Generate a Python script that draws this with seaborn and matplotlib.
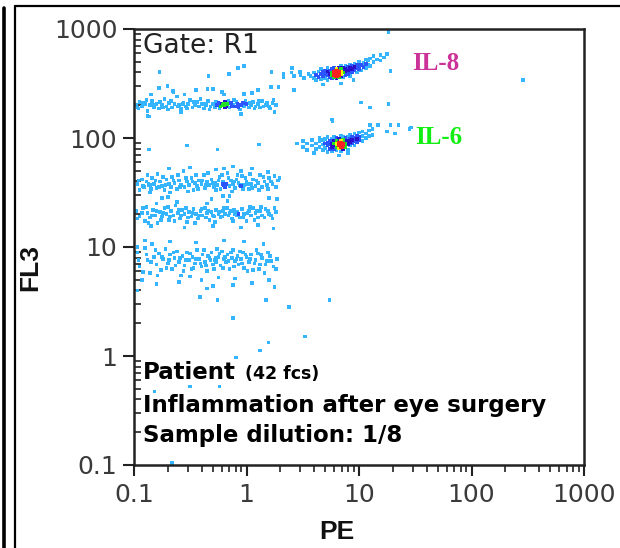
import numpy as np
import pandas as pd
import matplotlib
matplotlib.use("Agg")
import matplotlib.pyplot as plt
import seaborn as sns
from matplotlib.lines import Line2D
from matplotlib.ticker import LogLocator, NullFormatter

sns.set_theme(style="white")
plt.rcParams["font.family"] = ["DejaVu Sans"]

# ---- data: events as (log10 PE, log10 FL3) ----
band_fl3_200 = [
    (-0.98,2.30),(-0.96,2.27),(-0.95,2.33),(-0.93,2.29),(-0.90,2.31),(-0.88,2.25),(-0.86,2.30),(-0.84,2.34),
    (-0.82,2.28),(-0.80,2.31),(-0.78,2.27),(-0.75,2.30),(-0.73,2.36),(-0.71,2.29),(-0.69,2.32),(-0.66,2.28),
    (-0.64,2.31),(-0.62,2.38),(-0.60,2.30),(-0.58,2.27),(-0.56,2.32),(-0.54,2.29),(-0.52,2.31),(-0.50,2.35),
    (-0.48,2.28),(-0.46,2.30),(-0.44,2.33),(-0.42,2.29),(-0.40,2.31),(-0.38,2.27),(-0.36,2.30),(-0.34,2.34),
    (-0.32,2.29),(-0.30,2.31),(-0.28,2.28),(-0.26,2.30),(-0.25,2.32),(-0.23,2.29),(-0.22,2.31),(-0.21,2.30),
    (-0.20,2.30),(-0.19,2.33),(-0.18,2.29),(-0.17,2.31),(-0.15,2.28),(-0.14,2.32),(-0.12,2.30),(-0.11,2.35),
    (-0.10,2.29),(-0.08,2.31),(-0.07,2.28),(-0.05,2.30),(-0.03,2.32),(-0.02,2.29),(0.00,2.31),(0.02,2.28),
    (0.04,2.30),(0.06,2.33),(0.08,2.29),(0.10,2.31),(0.12,2.28),(0.14,2.34),(0.17,2.30),(0.20,2.29),
    (0.23,2.32),(0.26,2.30),(-0.65,2.42),(-0.55,2.40),(-0.45,2.44),(-0.78,2.46),(-0.30,2.45),(-0.20,2.40),
    (-0.22,2.42),(0.05,2.41),(0.10,2.44),(0.22,2.47),(-0.85,2.40),(-0.88,2.20),(-0.58,2.24),(-0.05,2.22),
    (0.25,2.24),(-0.21,2.30),(-0.20,2.31),(-0.22,2.30),
    (-0.97,2.28),(-0.92,2.32),(-0.89,2.35),(-0.83,2.30),(-0.77,2.33),(-0.74,2.28),(-0.70,2.26),(-0.67,2.34),
    (-0.61,2.29),(-0.57,2.31),(-0.53,2.27),(-0.47,2.33),(-0.41,2.36),(-0.37,2.31),(-0.33,2.26),(-0.27,2.33),
    (-0.24,2.27),(-0.19,2.28),(-0.16,2.34),(-0.13,2.29),(-0.09,2.33),(-0.06,2.26),(-0.01,2.34),(0.03,2.32),
    (0.07,2.27),(0.11,2.34),(0.15,2.29),(0.18,2.32),(0.21,2.27),(0.24,2.35),
]
band_fl3_37 = [
    (-0.97,1.58),(-0.95,1.52),(-0.93,1.62),(-0.91,1.55),(-0.89,1.60),(-0.87,1.57),(-0.86,1.50),(-0.84,1.63),
    (-0.82,1.58),(-0.80,1.54),(-0.79,1.67),(-0.77,1.60),(-0.75,1.56),(-0.73,1.52),(-0.71,1.62),(-0.69,1.58),
    (-0.67,1.55),(-0.66,1.64),(-0.64,1.59),(-0.62,1.53),(-0.60,1.61),(-0.58,1.57),(-0.56,1.70),(-0.55,1.55),
    (-0.53,1.60),(-0.51,1.57),(-0.49,1.63),(-0.47,1.52),(-0.46,1.59),(-0.44,1.56),(-0.42,1.61),(-0.40,1.58),
    (-0.38,1.66),(-0.37,1.54),(-0.35,1.60),(-0.33,1.57),(-0.31,1.62),(-0.29,1.55),(-0.28,1.59),(-0.26,1.57),
    (-0.24,1.64),(-0.23,1.53),(-0.21,1.60),(-0.20,1.57),(-0.18,1.58),(-0.17,1.68),(-0.15,1.56),(-0.14,1.61),
    (-0.12,1.58),(-0.10,1.54),(-0.09,1.62),(-0.07,1.59),(-0.05,1.56),(-0.04,1.65),(-0.02,1.57),(0.00,1.60),
    (0.02,1.53),(0.04,1.58),(0.06,1.62),(0.08,1.56),(0.10,1.59),(0.12,1.66),(0.14,1.55),(0.16,1.60),
    (0.18,1.57),(0.20,1.63),(0.23,1.58),(0.26,1.55),(0.28,1.61),(-0.69,1.72),(-0.50,1.73),(-0.27,1.71),
    (-0.20,1.72),(-0.12,1.74),(-0.05,1.70),(0.05,1.72),(0.19,1.69),(-0.75,1.45),(-0.70,1.46),(-0.31,1.44),
    (-0.15,1.47),(0.20,1.45),(0.27,1.44),(-0.87,1.58),(-0.86,1.57),(-0.21,1.58),(-0.20,1.58),
    (-0.96,1.61),(-0.92,1.56),(-0.88,1.66),(-0.85,1.53),(-0.81,1.61),(-0.78,1.55),(-0.74,1.64),(-0.72,1.57),
    (-0.68,1.50),(-0.65,1.61),(-0.61,1.66),(-0.59,1.55),(-0.54,1.63),(-0.52,1.51),(-0.48,1.60),(-0.45,1.66),
    (-0.43,1.53),(-0.39,1.61),(-0.36,1.57),(-0.34,1.68),(-0.30,1.59),(-0.27,1.52),(-0.25,1.61),(-0.22,1.66),
    (-0.19,1.55),(-0.16,1.63),(-0.13,1.51),(-0.11,1.60),(-0.08,1.66),(-0.06,1.57),(-0.03,1.53),(-0.01,1.63),
    (0.01,1.58),(0.03,1.67),(0.05,1.54),(0.09,1.61),(0.11,1.52),(0.15,1.64),(0.19,1.53),(0.22,1.60),(0.25,1.65),
]
band_fl3_20 = [
    (-0.98,1.33),(-0.95,1.28),(-0.92,1.36),(-0.90,1.24),(-0.88,1.31),(-0.86,1.27),(-0.83,1.34),(-0.81,1.29),
    (-0.79,1.22),(-0.77,1.32),(-0.75,1.28),(-0.73,1.36),(-0.71,1.30),(-0.69,1.25),(-0.67,1.33),(-0.65,1.29),
    (-0.63,1.38),(-0.61,1.31),(-0.59,1.26),(-0.57,1.34),(-0.55,1.30),(-0.53,1.23),(-0.51,1.32),(-0.49,1.28),
    (-0.47,1.35),(-0.45,1.30),(-0.43,1.26),(-0.41,1.33),(-0.39,1.29),(-0.37,1.36),(-0.35,1.31),(-0.33,1.25),
    (-0.31,1.32),(-0.29,1.28),(-0.27,1.34),(-0.25,1.30),(-0.23,1.27),(-0.21,1.33),(-0.19,1.30),(-0.17,1.36),
    (-0.15,1.31),(-0.13,1.26),(-0.11,1.34),(-0.09,1.29),(-0.08,1.32),(-0.06,1.27),(-0.04,1.35),(-0.02,1.30),
    (0.00,1.24),(0.02,1.33),(0.04,1.29),(0.06,1.36),(0.08,1.31),(0.10,1.27),(0.12,1.33),(0.14,1.29),
    (0.17,1.35),(0.20,1.30),(0.23,1.26),(0.26,1.32),(-0.80,1.40),(-0.62,1.41),(-0.35,1.40),(-0.17,1.42),
    (-0.85,1.19),(-0.55,1.18),(-0.30,1.19),(-0.05,1.18),(0.10,1.20),(0.24,1.17),(-0.21,1.47),(-0.10,1.30),
    (-0.97,1.26),(-0.93,1.31),(-0.89,1.37),(-0.87,1.22),(-0.84,1.29),(-0.80,1.33),(-0.76,1.25),(-0.74,1.31),
    (-0.70,1.37),(-0.68,1.28),(-0.64,1.24),(-0.60,1.34),(-0.58,1.29),(-0.54,1.36),(-0.52,1.27),(-0.48,1.31),
    (-0.46,1.22),(-0.42,1.29),(-0.40,1.35),(-0.36,1.27),(-0.34,1.33),(-0.30,1.29),(-0.28,1.23),(-0.24,1.32),
    (-0.22,1.28),(-0.20,1.36),(-0.16,1.29),(-0.14,1.33),(-0.12,1.24),(-0.07,1.30),(-0.03,1.27),(0.01,1.31),
    (0.03,1.37),(0.07,1.25),(0.09,1.33),(0.13,1.37),(0.16,1.27),(0.19,1.33),(0.22,1.29),(0.25,1.36),
]
band_fl3_7 = [
    (-0.97,0.95),(-0.95,0.82),(-0.93,0.70),(-0.90,0.99),(-0.88,0.88),(-0.86,0.76),(-0.84,1.03),(-0.82,0.91),
    (-0.80,0.84),(-0.78,0.94),(-0.76,0.79),(-0.74,0.89),(-0.72,0.98),(-0.70,0.85),(-0.68,0.93),(-0.66,0.80),
    (-0.64,0.90),(-0.62,0.96),(-0.60,0.86),(-0.58,0.74),(-0.57,0.92),(-0.55,0.83),(-0.53,0.95),(-0.51,0.88),
    (-0.49,0.80),(-0.48,0.91),(-0.46,0.85),(-0.44,0.97),(-0.42,0.89),(-0.40,0.82),(-0.39,0.93),(-0.37,0.86),
    (-0.35,0.78),(-0.33,0.90),(-0.31,0.95),(-0.30,0.84),(-0.28,0.88),(-0.26,0.98),(-0.25,0.91),(-0.23,0.83),
    (-0.22,0.96),(-0.20,0.89),(-0.18,0.86),(-0.17,0.93),(-0.15,0.80),(-0.13,0.90),(-0.12,0.97),(-0.10,0.87),
    (-0.08,0.92),(-0.07,0.84),(-0.05,0.89),(-0.03,0.95),(-0.02,0.81),(0.00,0.91),(0.02,0.86),(0.04,0.93),
    (0.06,0.79),(0.08,0.88),(0.10,0.94),(0.12,0.84),(0.14,0.90),(0.16,0.76),(0.18,0.87),(0.21,0.92),
    (0.24,0.82),(0.27,0.89),(-0.90,1.06),(-0.68,1.05),(-0.45,1.04),(-0.20,1.06),(-0.02,1.05),(0.15,1.03),
    (-0.80,0.66),(-0.60,0.68),(-0.40,0.70),(-0.30,0.64),(-0.25,0.72),(-0.12,0.65),(-0.10,0.71),(0.05,0.67),
    (0.20,0.70),(-0.50,0.73),(-0.35,0.62),(0.25,0.63),(-0.97,0.60),(-0.97,1.00),(-0.32,0.88),(-0.27,0.90),
    (-0.96,0.88),(-0.92,0.77),(-0.89,0.93),(-0.85,0.86),(-0.81,0.97),(-0.79,0.74),(-0.75,0.91),(-0.71,0.81),
    (-0.69,0.88),(-0.65,0.95),(-0.63,0.83),(-0.59,0.90),(-0.56,0.78),(-0.54,0.88),(-0.50,0.94),(-0.47,0.81),
    (-0.45,0.89),(-0.41,0.85),(-0.38,0.97),(-0.36,0.83),(-0.34,0.92),(-0.29,0.80),(-0.27,0.86),(-0.24,0.94),
    (-0.21,0.81),(-0.19,0.91),(-0.16,0.87),(-0.14,0.95),(-0.11,0.82),(-0.09,0.89),(-0.06,0.96),(-0.04,0.85),
    (-0.01,0.93),(0.01,0.78),(0.03,0.89),(0.07,0.85),(0.09,0.97),(0.11,0.80),(0.13,0.93),(0.17,0.84),
    (0.19,0.95),(0.22,0.87),(0.26,0.80),
]
il8_beads = [
    (0.33,2.56),(0.40,2.60),(0.42,2.57),(0.48,2.58),(0.51,2.55),(0.55,2.59),(0.57,2.57),
    (0.60,2.55),(0.60,2.60),(0.62,2.58),(0.62,2.53),(0.64,2.61),(0.64,2.56),(0.66,2.54),(0.66,2.59),
    (0.66,2.63),(0.68,2.57),(0.68,2.61),(0.70,2.55),(0.70,2.59),(0.70,2.62),(0.72,2.53),(0.72,2.58),
    (0.72,2.61),(0.72,2.64),(0.74,2.56),(0.74,2.59),(0.74,2.62),(0.76,2.55),(0.76,2.58),(0.76,2.60),
    (0.76,2.63),(0.78,2.56),(0.78,2.58),(0.78,2.59),(0.78,2.61),(0.78,2.64),(0.79,2.57),(0.79,2.59),
    (0.79,2.60),(0.79,2.62),(0.80,2.55),(0.80,2.58),(0.80,2.59),(0.80,2.60),(0.80,2.61),(0.80,2.63),
    (0.81,2.57),(0.81,2.59),(0.81,2.60),(0.81,2.62),(0.82,2.56),(0.82,2.58),(0.82,2.60),(0.82,2.61),
    (0.82,2.64),(0.84,2.57),(0.84,2.59),(0.84,2.61),(0.84,2.63),(0.84,2.66),(0.86,2.56),(0.86,2.60),
    (0.86,2.62),(0.86,2.64),(0.88,2.58),(0.88,2.61),(0.88,2.63),(0.88,2.66),(0.90,2.59),(0.90,2.62),
    (0.90,2.65),(0.92,2.57),(0.92,2.61),(0.92,2.64),(0.92,2.67),(0.94,2.60),(0.94,2.63),(0.94,2.66),
    (0.96,2.62),(0.96,2.65),(0.96,2.68),(0.98,2.60),(0.98,2.64),(0.98,2.67),(1.00,2.63),(1.00,2.66),
    (1.00,2.70),(1.02,2.62),(1.02,2.67),(1.04,2.65),(1.04,2.69),(1.06,2.64),(1.06,2.68),(1.06,2.72),
    (1.08,2.67),(1.08,2.71),(1.10,2.66),(1.10,2.73),(1.13,2.70),(1.13,2.75),(1.16,2.72),(1.19,2.76),
    (1.19,2.71),(1.22,2.74),(1.25,2.77),(0.68,2.49),(0.84,2.50),(0.95,2.53),
]
il6_beads = [
    (0.45,1.95),(0.50,1.92),(0.50,1.97),(0.54,1.95),(0.54,1.89),(0.58,1.93),(0.58,1.98),(0.62,1.90),
    (0.62,1.95),(0.65,1.92),(0.65,1.97),(0.65,2.00),(0.68,1.89),(0.68,1.94),(0.68,1.98),(0.70,1.91),
    (0.70,1.95),(0.70,1.99),(0.72,1.87),(0.72,1.93),(0.72,1.96),(0.72,2.01),(0.74,1.90),(0.74,1.94),
    (0.74,1.97),(0.76,1.88),(0.76,1.92),(0.76,1.95),(0.76,1.99),(0.78,1.90),(0.78,1.93),(0.78,1.95),
    (0.78,1.97),(0.78,2.01),(0.80,1.89),(0.80,1.92),(0.80,1.94),(0.80,1.95),(0.80,1.97),(0.80,2.00),
    (0.82,1.91),(0.82,1.93),(0.82,1.94),(0.82,1.96),(0.82,1.99),(0.84,1.88),(0.84,1.92),(0.84,1.94),
    (0.84,1.95),(0.84,1.97),(0.84,2.02),(0.86,1.90),(0.86,1.93),(0.86,1.95),(0.86,1.98),(0.86,2.01),
    (0.88,1.92),(0.88,1.95),(0.88,1.97),(0.88,2.00),(0.90,1.89),(0.90,1.94),(0.90,1.97),(0.90,2.01),
    (0.92,1.93),(0.92,1.96),(0.92,1.99),(0.92,2.03),(0.94,1.95),(0.94,1.98),(0.94,2.01),(0.96,1.93),
    (0.96,1.97),(0.96,2.00),(0.96,2.04),(0.98,1.96),(0.98,1.99),(0.98,2.02),(1.00,1.98),(1.00,2.01),
    (1.00,2.05),(1.03,1.97),(1.03,2.02),(1.03,2.06),(1.06,2.00),(1.06,2.04),(1.09,2.02),(1.09,2.07),
    (1.12,2.03),(1.12,2.08),(1.10,2.12),(1.17,2.12),(1.28,2.12),(1.35,2.12),(1.25,2.06),(1.32,2.04),
    (1.45,2.08),(0.76,2.17),(0.82,1.84),(0.90,1.86),(0.60,1.86),
    (0.83,1.93),(0.84,1.93),(0.85,1.94),(0.83,1.95),(0.85,1.92),(0.84,1.96),(0.86,1.94),(0.83,1.94),
]
scattered_events = [
    (-0.774,2.604),(-0.339,2.567),(-0.158,2.585),(-0.077,2.641),(-0.023,2.659),(0.222,2.604),(0.330,2.585),
    (0.403,2.641),(0.475,2.604),(-0.701,2.475),(-0.656,2.429),(-0.348,2.447),(-0.023,2.401),(0.285,2.465),
    (0.421,2.438),(1.018,2.327),(1.100,2.281),(1.262,2.309),(-0.864,2.198),(-0.864,1.894),(-0.529,1.931),
    (-0.258,1.894),(0.113,1.940),(0.765,2.152),(1.281,2.613),(1.262,2.972),(1.462,2.097),(2.457,2.530),
    (0.294,1.636),(0.195,0.124),(0.122,0.051),(-0.095,-0.014),(-0.502,-0.281),(-0.240,-0.281),
    (-0.819,-0.327),(-0.412,0.539),(-0.258,0.512),(0.176,0.512),(0.376,0.447),(0.738,0.512),
    (-0.665,-0.982),(0.520,0.180),(-0.122,0.346),
]

clusters = [band_fl3_200, band_fl3_37, band_fl3_20, band_fl3_7, il8_beads, il6_beads, scattered_events]
pts = np.array([p for c in clusters for p in c])
df = pd.DataFrame({"PE": 10 ** pts[:, 0], "FL3": 10 ** pts[:, 1]})

# density level per event (neighbour count in screen pixels)
px = (pts[:, 0] + 1) * 112.5
py = (pts[:, 1] + 1) * 109.0
d2 = (px[:, None] - px[None, :]) ** 2 + (py[:, None] - py[None, :]) ** 2
count = (d2 <= 4.0 ** 2).sum(axis=1)
df["level"] = np.digitize(count, [5, 7, 9, 12, 15])
df = df.sort_values("level")
palette = {0: "#35b4ff", 1: "#2a55ff", 2: "#2a10c8", 3: "#22e022", 4: "#f2f200", 5: "#ff2020"}

fig = plt.figure(figsize=(6.2, 5.48), dpi=100)
ax = fig.add_axes([134 / 620, 1 - 465 / 548, 450 / 620, 436 / 548])
sns.scatterplot(data=df, x="PE", y="FL3", hue="level", palette=palette, marker="s",
                s=7, linewidth=0, legend=False, ax=ax)
ax.set_xscale("log")
ax.set_yscale("log")
ax.set_xlim(0.1, 1000)
ax.set_ylim(0.1, 1000)

ticks = [0.1, 1, 10, 100, 1000]
tick_labels = ["0.1", "1", "10", "100", "1000"]
ax.set_xticks(ticks, tick_labels)
ax.set_yticks(ticks, tick_labels)
for a in (ax.xaxis, ax.yaxis):
    a.set_minor_locator(LogLocator(base=10, subs=np.arange(2, 10)))
    a.set_minor_formatter(NullFormatter())
ax.tick_params(which="both", bottom=True, left=True, top=False, right=False)
ax.tick_params(axis="both", which="major", direction="out", length=8, width=1.5,
               color="#222222", labelsize=18, labelcolor="#3a3a3a", pad=4)
ax.tick_params(axis="x", which="minor", direction="out", length=5, width=1.2, color="#222222")
ax.tick_params(axis="y", which="minor", direction="in", length=5, width=1.2, color="#222222")
ax.tick_params(axis="x", which="major", pad=5)
for s in ax.spines.values():
    s.set_linewidth(1.8)
    s.set_color("#222222")

ax.set_xlabel("PE", fontsize=19, fontweight="bold", family="Liberation Sans", color="#111111")
ax.set_ylabel("FL3", fontsize=19, fontweight="bold", family="Liberation Sans", color="#111111")
ax.xaxis.set_label_coords(0.451, -0.126)
ax.yaxis.set_label_coords(-0.204, 0.452)

ax.text(0.02, 0.991, "Gate: R1", transform=ax.transAxes, ha="left", va="top",
        fontsize=19, color="#222222")
ax.text(0.618, 0.922, "IL-8", transform=ax.transAxes, ha="left", va="center",
        fontsize=18, fontweight="bold", family="Liberation Serif", color="#cc3399")
ax.text(0.624, 0.752, "IL-6", transform=ax.transAxes, ha="left", va="center",
        fontsize=18, fontweight="bold", family="Liberation Serif", color="#11ee11")

note_kw = dict(transform=ax.transAxes, ha="left", va="baseline", fontweight="bold", color="#000000")
ax.text(0.02, 0.197, "Patient", fontsize=16.5, **note_kw)
ax.text(0.247, 0.197, "(42 fcs)", fontsize=12.5, **note_kw)
ax.text(0.02, 0.1216, "Inflammation after eye surgery", fontsize=16.5, **note_kw)
ax.text(0.02, 0.0528, "Sample dilution: 1/8", fontsize=16.5, **note_kw)

# panel frame lines
fig.add_artist(Line2D([3.5 / 620, 3.5 / 620], [0, 1 - 8 / 548], transform=fig.transFigure,
                      color="black", lw=2.6))
fig.add_artist(Line2D([15 / 620, 15 / 620], [0, 1 - 6 / 548], transform=fig.transFigure,
                      color="black", lw=1.6))
fig.add_artist(Line2D([15 / 620, 1], [1 - 6 / 548, 1 - 6 / 548], transform=fig.transFigure,
                      color="black", lw=1.6))

fig.savefig("out.png", dpi=100)
